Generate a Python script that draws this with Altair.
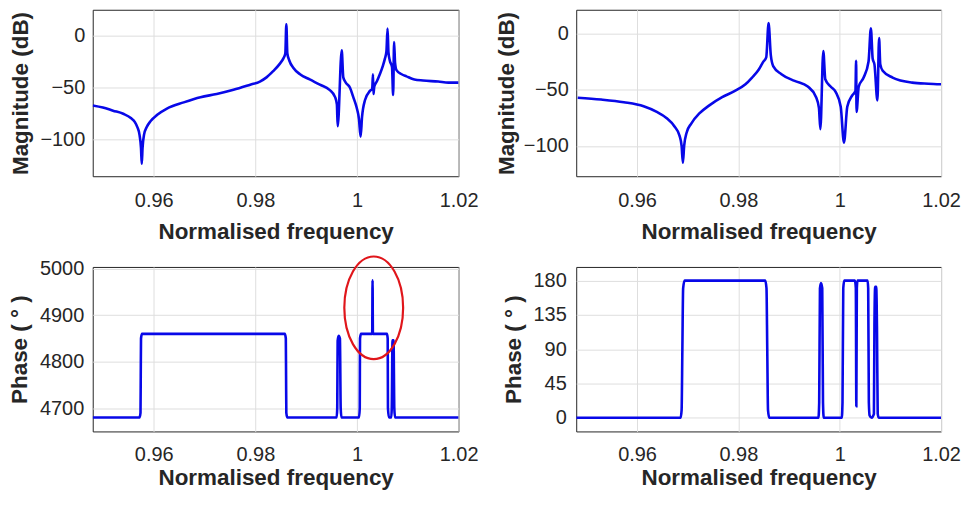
import altair as alt
import pandas as pd

# ---------------- data ----------------
freq_ticks = [0.96, 0.98, 1.0, 1.02]

# top-left: magnitude (dB)
mag_a_freq = [0.9480, 0.9500, 0.9520, 0.9540, 0.9555, 0.9563, 0.9568, 0.9572, 0.9575, 0.95765,
              0.9578, 0.9581, 0.9586, 0.9594, 0.9607, 0.9626, 0.9659, 0.9692, 0.9724, 0.9757,
              0.9790, 0.9809, 0.9822, 0.9835, 0.9848, 0.9855, 0.9859, 0.9861, 0.9863, 0.9867,
              0.9875, 0.9888, 0.9907, 0.9927, 0.9946, 0.9957, 0.99605, 0.99621, 0.9970, 0.99731,
              0.9978, 0.99863, 0.99928, 0.99994, 1.0004, 1.00072, 1.0010, 1.00157, 1.00255, 1.0030,
              1.00315, 1.00325, 1.0034, 1.0039, 1.0045, 1.0051, 1.0055, 1.0058, 1.00602, 1.0062,
              1.00647, 1.0069, 1.00712, 1.00731, 1.0075, 1.00778, 1.0088, 1.00974, 1.0113, 1.0130,
              1.0160, 1.0180, 1.0200]
mag_a_db = [-67, -69, -72, -75, -79, -83, -88, -95, -108, -123,
            -108, -95, -88, -82, -76, -70, -64, -59, -56, -52,
            -47, -44, -40, -34, -27, -22, -17, 11, -17, -24,
            -31, -37, -42, -47, -52, -59, -66, -87, -14, -40,
            -45, -50, -59, -69, -80, -97, -78, -62, -53, -51,
            -37, -56, -49, -44, -37, -29, -22, -15, 7, -16,
            -24, -30, -57, -6, -26, -33, -37, -39, -42, -43,
            -44, -45, -45]

# top-right: magnitude (dB)
mag_b_freq = [0.9483, 0.9529, 0.9574, 0.9613, 0.9639, 0.9658, 0.9674, 0.9684, 0.9688, 0.96905,
              0.9693, 0.9698, 0.9707, 0.9723, 0.9742, 0.9768, 0.9794, 0.9814, 0.9827, 0.9840,
              0.9849, 0.9855, 0.98596, 0.9864, 0.9869, 0.9885, 0.9911, 0.9937, 0.99534, 0.9959,
              0.99618, 0.99676, 0.99715, 0.9982, 0.99922, 1.0002, 1.00084, 1.00149, 1.00246, 1.0031,
              1.00324, 1.00332, 1.00375, 1.00472, 1.00569, 1.00615, 1.0065, 1.00686, 1.00744, 1.00777,
              1.0080, 1.00848, 1.01043, 1.0143, 1.0175, 1.0200]
mag_b_db = [-57, -58.6, -61, -64.6, -69.6, -75, -82.6, -91, -100, -115,
            -100, -88, -80, -71, -64, -56.5, -50.7, -45, -39, -32,
            -25, -21, 9.6, -19, -29, -36, -42, -47, -56.5, -66,
            -85, -15.3, -40.5, -47, -52, -65, -97, -65, -55, -51,
            -24, -69.6, -47, -39, -24.6, 5, -22, -27.5, -59.4, -3.7,
            -27, -33, -39, -43.5, -44.5, -45]

# bottom-left: unwrapped phase (deg)
ph_a_freq = [0.9480, 0.9572, 0.9574, 0.95745, 0.9575, 0.9577, 0.9858, 0.9860, 0.98605, 0.9861,
             0.9863, 0.9960, 0.99612, 0.9962, 0.9964, 0.99665, 0.9968, 0.99695, 1.0004, 1.00055,
             1.0006, 1.0008, 1.0030, 1.00307, 1.00314, 1.0059, 1.00605, 1.0061, 1.0063, 1.00675,
             1.00685, 1.0070, 1.0072, 1.00735, 1.0075, 1.0200]
ph_a_deg = [4680, 4680, 4690, 4770, 4850, 4860, 4860, 4850, 4770, 4690,
            4680, 4680, 4700, 4845, 4856, 4850, 4700, 4680, 4680, 4700,
            4850, 4860, 4860, 4975, 4860, 4860, 4850, 4700, 4680, 4680,
            4700, 4846, 4846, 4700, 4680, 4680]

# bottom-right: wrapped phase (deg)
ph_b_freq = [0.9480, 0.9686, 0.9688, 0.96895, 0.9691, 0.9694, 0.9853, 0.98555, 0.9857, 0.98585,
             0.9861, 0.9958, 0.99595, 0.9961, 0.9963, 0.99655, 0.9967, 0.99685, 1.0004, 1.00055,
             1.0007, 1.0009, 1.0030, 1.00318, 1.00328, 1.00338, 1.0035, 1.0055, 1.00562, 1.00575,
             1.0059, 1.0063, 1.00675, 1.00685, 1.0070, 1.0072, 1.00735, 1.0075, 1.0077, 1.0200]
ph_b_deg = [0, 0, 10, 90, 170, 180, 180, 170, 90, 10,
            0, 0, 20, 170, 177, 170, 20, 0, 0, 20,
            170, 180, 180, 170, 15, 170, 180, 180, 170, 20,
            3, 0, 5, 120, 172, 172, 120, 5, 0, 0]

highlight_freq = [1.0033]
highlight_phase = [4916]

# ---------------- styling ----------------
LINE = "#0808e8"
TXT = "#262626"
FONT = "Liberation Sans"
X_DOMAIN = [0.948, 1.02]


def panel(freq, vals, title, domain, yticks, lab_pad, title_pad, xlab_pad, xtitle_pad, w, h):
    df = pd.DataFrame({"f": freq, "v": vals, "i": list(range(len(freq)))})
    return alt.Chart(df).mark_line(color=LINE, strokeWidth=2.6, clip=True,
                                   interpolate="monotone").encode(
        x=alt.X("f:Q", scale=alt.Scale(domain=X_DOMAIN, nice=False, zero=False),
                axis=alt.Axis(title="Normalised frequency", values=freq_ticks, format=".2~f",
                              labelFlush=False, labelPadding=xlab_pad, titlePadding=xtitle_pad)),
        y=alt.Y("v:Q", scale=alt.Scale(domain=domain, nice=False, zero=False),
                axis=alt.Axis(title=title, values=yticks, format="d", labelPadding=lab_pad,
                              titlePadding=title_pad)),
        order="i:Q",
    ).properties(width=w, height=h)


tl = panel(mag_a_freq, mag_a_db, "Magnitude (dB)", [-135, 25], [-100, -50, 0], 8, 7, 14, 10, 367, 167)
tr = panel(mag_b_freq, mag_b_db, "Magnitude (dB)", [-127, 21.5], [-100, -50, 0], 8, 5, 14, 10, 366, 167)
bl_line = panel(ph_a_freq, ph_a_deg, "Phase ( ° )", [4650, 5004], [4700, 4800, 4900, 5000], 9, 7.5, 13, 2, 367, 165)
br = panel(ph_b_freq, ph_b_deg, "Phase ( ° )", [-18, 198], [0, 45, 90, 135, 180], 10, 8, 13, 2, 366, 165)

ring_df = pd.DataFrame({"f": highlight_freq, "v": highlight_phase})
ring = alt.Chart(ring_df).mark_point(
    shape="M -1 0 A 1 1.746 0 1 1 1 0 A 1 1.746 0 1 1 -1 0 Z",
    size=3481, filled=False, stroke="#e0161b", strokeWidth=2.2, opacity=1, clip=False,
).encode(x=alt.X("f:Q"), y=alt.Y("v:Q"))

bl = alt.layer(bl_line, ring)

chart = alt.concat(tl, tr, bl, br, columns=2, spacing={"row": 91, "column": 118}).properties(
    bounds="flush",
    padding={"left": 0, "top": 0, "right": 0, "bottom": 0},
    background="white",
).configure_view(
    stroke=TXT, strokeWidth=1
).configure_axis(
    grid=True, gridColor="#dedede", gridWidth=1, domain=False, ticks=False, tickSize=0,
    labelFont=FONT, labelFontSize=20, labelColor=TXT,
    titleFont=FONT, titleFontSize=22.5, titleFontWeight="bold", titleColor=TXT,
)

chart.save("out.html", embed_options={"renderer": "svg", "actions": False})
